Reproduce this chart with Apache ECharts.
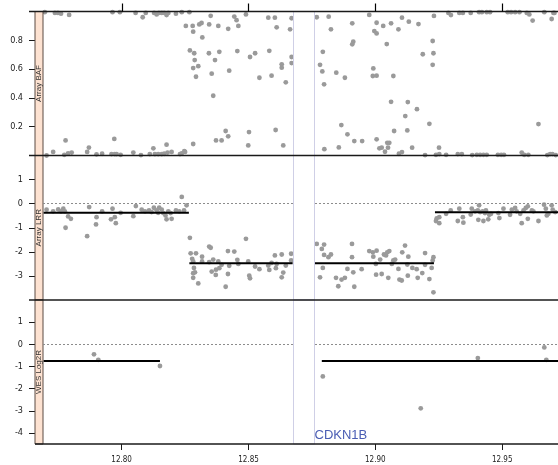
<!DOCTYPE html>
<html>
<head>
<meta charset="utf-8">
<script src="https://cdn.jsdelivr.net/npm/echarts@6/dist/echarts.min.js"></script>
<style>
  html, body { margin: 0; padding: 0; background: #fff; }
  #chart { width: 558px; height: 465px; }
</style>
</head>
<body>
<div id="chart"></div>
<script>
// ---- data (positions in Mb on chr12) ----
const xTicks = [12.80, 12.85, 12.90, 12.95];
const bafTicks = [0.2, 0.4, 0.6, 0.8];
const lrrTicks = [-3, -2, -1, 0, 1];
const wesTicks = [-4, -3, -2, -1, 0, 1];
const panelNames = ['Array BAF', 'Array LRR', 'WES Log2R'];
const geneName = 'CDKN1B';
const geneRange = [12.8677, 12.8757];

const xRange = [12.769, 12.972];
const bafRange = [0, 1];
const lrrRange = [-4, 2];
const wesRange = [-4.5, 2];

// B-allele frequency, one [position, BAF] per probe
const bafPoints = [
  [12.7697,0.995],[12.7737,0.99],[12.7749,0.99],[12.7761,0.985],[12.7793,0.976],[12.7964,0.995],
  [12.7993,0.995],[12.8055,0.99],[12.8083,0.96],[12.8095,0.99],[12.8128,0.99],[12.8138,0.98],
  [12.8147,0.99],[12.8158,0.99],[12.8168,0.99],[12.8177,0.975],[12.8184,0.99],[12.8214,0.985],
  [12.8237,0.995],[12.8267,0.995],
  [12.7704,0.0],[12.7730,0.025],[12.7779,0.105],[12.7774,0.005],[12.7789,0.015],[12.7803,0.02],
  [12.7864,0.025],[12.7871,0.055],[12.7901,0.008],[12.7923,0.012],[12.7971,0.115],[12.7960,0.01],
  [12.7973,0.01],[12.7980,0.01],[12.7996,0.005],[12.8046,0.02],[12.8076,0.003],[12.8125,0.05],
  [12.8111,0.01],[12.8131,0.01],[12.8144,0.01],[12.8158,0.01],[12.8168,0.012],[12.8177,0.075],
  [12.8181,0.02],[12.8197,0.025],[12.8230,0.01],[12.8247,0.03],[12.8282,0.08],[12.8237,0.015],
  [12.8250,0.025],
  [12.8253,0.90],[12.8280,0.90],[12.8282,0.86],[12.8269,0.73],[12.8286,0.71],[12.8288,0.663],
  [12.8282,0.607],[12.8302,0.62],[12.8293,0.547],[12.8306,0.91],[12.8315,0.92],[12.8318,0.82],
  [12.8345,0.91],[12.8351,0.97],[12.8344,0.71],[12.8355,0.568],[12.8361,0.415],[12.8368,0.663],
  [12.8372,0.105],[12.8381,0.90],[12.8385,0.72],[12.8394,0.105],[12.8410,0.17],[12.8420,0.88],
  [12.8420,0.133],[12.8424,0.589],[12.8444,0.965],[12.8453,0.94],[12.8456,0.725],[12.8460,0.90],
  [12.8490,0.98],[12.8499,0.07],[12.8502,0.163],[12.8506,0.684],[12.8526,0.71],[12.8543,0.54],
  [12.8578,0.957],[12.8582,0.727],[12.8591,0.554],[12.8604,0.957],[12.8607,0.177],[12.8611,0.89],
  [12.8631,0.633],[12.8631,0.61],[12.8637,0.07],[12.8647,0.508],[12.8664,0.876],[12.8670,0.953],
  [12.8670,0.684],[12.8670,0.642],
  [12.8769,0.96],[12.8782,0.63],[12.8793,0.72],[12.8791,0.584],[12.8798,0.494],[12.8799,0.044],
  [12.8816,0.964],[12.8825,0.876],[12.8846,0.575],[12.8856,0.056],[12.8866,0.211],[12.8880,0.54],
  [12.8890,0.147],[12.8909,0.918],[12.8913,0.79],[12.8909,0.772],[12.8917,0.10],[12.8948,0.10],
  [12.8976,0.976],[12.8990,0.552],[12.8992,0.605],[12.8996,0.864],[12.9005,0.922],[12.9005,0.848],
  [12.9005,0.554],[12.9005,0.112],[12.9016,0.05],[12.9025,0.054],[12.9031,0.90],[12.9038,0.026],
  [12.9045,0.774],[12.9047,0.088],[12.9050,0.054],[12.9055,0.088],[12.9062,0.918],[12.9062,0.373],
  [12.9071,0.552],[12.9074,0.17],[12.9091,0.876],[12.9093,0.012],[12.9105,0.957],[12.9105,0.024],
  [12.9118,0.274],[12.9126,0.174],[12.9128,0.371],[12.9132,0.929],[12.9145,0.054],[12.9164,0.322],
  [12.9170,0.913],[12.9187,0.703],[12.9196,0.003],[12.9213,0.22],[12.9226,0.795],[12.9226,0.63],
  [12.9229,0.71],[12.9231,0.969],[12.9239,0.005],[12.9251,0.054],[12.9252,0.01],
  [12.9288,0.99],[12.9298,0.975],[12.9331,0.99],[12.9345,0.99],[12.9376,0.99],[12.9409,0.995],
  [12.9420,0.995],[12.9439,0.995],[12.9452,0.995],[12.9522,0.995],[12.9535,0.995],[12.9551,0.995],
  [12.9568,0.995],[12.9597,0.99],[12.9607,0.98],[12.9620,0.937],[12.9666,0.995],[12.9695,0.948],
  [12.9702,0.99],[12.9706,0.99],
  [12.9279,0.005],[12.9325,0.01],[12.9341,0.01],[12.9382,0.003],[12.9400,0.005],[12.9413,0.005],
  [12.9426,0.005],[12.9439,0.005],[12.9483,0.005],[12.9496,0.005],[12.9507,0.005],[12.9577,0.02],
  [12.9587,0.005],[12.9603,0.005],[12.9643,0.218],[12.9678,0.003],[12.9689,0.01],[12.9698,0.01],
  [12.9711,0.003]
];

// Array log R ratio, one [position, LRR] per probe
const lrrPoints = [
  [12.7704,-0.25],[12.7730,-0.32],[12.7750,-0.24],[12.7761,-0.32],[12.7770,-0.21],[12.7776,-0.32],
  [12.7789,-0.53],[12.7800,-0.63],[12.7779,-1.0],[12.7864,-1.35],[12.7872,-0.14],[12.7901,-0.56],
  [12.7899,-0.86],[12.7923,-0.32],[12.7958,-0.65],[12.7964,-0.21],[12.7973,-0.56],[12.7977,-0.81],
  [12.7996,-0.38],[12.8046,-0.52],[12.8056,-0.10],[12.8079,-0.25],[12.8092,-0.32],[12.8108,-0.28],
  [12.8118,-0.35],[12.8127,-0.17],[12.8138,-0.28],[12.8144,-0.38],[12.8148,-0.17],[12.8158,-0.25],
  [12.8164,-0.39],[12.8173,-0.49],[12.8177,-0.65],[12.8184,-0.32],[12.8193,-0.39],[12.8197,-0.63],
  [12.8214,-0.28],[12.8227,-0.32],[12.8237,0.28],[12.8246,-0.28],[12.8256,-0.07],
  [12.8269,-1.42],[12.8272,-2.06],[12.8293,-2.06],[12.8278,-2.29],[12.8282,-2.40],[12.8285,-2.67],
  [12.8282,-2.89],[12.8289,-2.85],[12.8282,-3.08],[12.8302,-3.31],[12.8317,-2.20],[12.8317,-2.40],
  [12.8345,-1.78],[12.8351,-1.83],[12.8345,-2.43],[12.8355,-2.82],[12.8361,-2.32],[12.8371,-2.96],
  [12.8372,-2.74],[12.8381,-2.40],[12.8385,-2.68],[12.8394,-2.54],[12.8410,-3.45],[12.8419,-1.97],
  [12.8419,-2.92],[12.8424,-2.58],[12.8444,-1.99],[12.8456,-2.33],[12.8460,-2.50],[12.8490,-1.46],
  [12.8499,-2.40],[12.8503,-2.99],[12.8506,-3.10],[12.8526,-2.61],[12.8543,-2.72],[12.8578,-2.57],
  [12.8582,-2.75],[12.8591,-2.46],[12.8604,-2.15],[12.8608,-2.68],[12.8611,-2.50],[12.8631,-2.11],
  [12.8631,-3.06],[12.8637,-2.86],[12.8647,-2.57],[12.8668,-2.08],[12.8668,-2.36],
  [12.8769,-1.67],[12.8789,-1.88],[12.8798,-1.70],[12.8798,-2.13],[12.8815,-2.22],[12.8825,-2.11],
  [12.8793,-2.67],[12.8782,-3.06],[12.8845,-3.08],[12.8854,-3.43],[12.8867,-3.15],[12.8880,-3.08],
  [12.8890,-2.71],[12.8908,-1.67],[12.8908,-2.22],[12.8913,-2.85],[12.8917,-3.45],[12.8946,-2.72],
  [12.8976,-1.97],[12.8990,-2.02],[12.8992,-2.20],[12.9002,-2.50],[12.9003,-2.95],[12.9005,-1.95],
  [12.9019,-2.32],[12.9025,-2.92],[12.9034,-2.11],[12.9042,-2.15],[12.9047,-2.02],[12.9055,-1.97],
  [12.9051,-3.08],[12.9065,-2.50],[12.9071,-2.36],[12.9078,-2.32],[12.9091,-2.71],[12.9095,-3.15],
  [12.9104,-3.19],[12.9106,-2.02],[12.9117,-1.74],[12.9128,-2.99],[12.9130,-2.20],[12.9126,-2.53],
  [12.9146,-2.67],[12.9163,-2.72],[12.9167,-3.08],[12.9185,-2.88],[12.9196,-2.05],[12.9196,-2.54],
  [12.9213,-3.13],[12.9226,-2.36],[12.9229,-2.22],[12.9222,-2.67],[12.9229,-3.68],
  [12.9239,-0.72],[12.9252,-0.81],[12.9242,-0.61],[12.9252,-0.56],[12.9279,-0.42],[12.9297,-0.28],
  [12.9331,-0.21],[12.9325,-0.72],[12.9347,-0.79],[12.9345,-0.56],[12.9380,-0.21],[12.9376,-0.45],
  [12.9393,-0.32],[12.9404,-0.28],[12.9409,-0.07],[12.9413,-0.35],[12.9423,-0.32],[12.9432,-0.39],
  [12.9436,-0.28],[12.9406,-0.67],[12.9426,-0.72],[12.9445,-0.65],[12.9449,-0.46],[12.9456,-0.42],
  [12.9485,-0.39],[12.9489,-0.60],[12.9505,-0.21],[12.9531,-0.46],[12.9538,-0.25],[12.9551,-0.18],
  [12.9557,-0.32],[12.9571,-0.42],[12.9577,-0.81],[12.9584,-0.28],[12.9593,-0.18],[12.9601,-0.11],
  [12.9601,-0.63],[12.9617,-0.28],[12.9623,-0.32],[12.9643,-0.72],[12.9665,-0.04],[12.9672,-0.21],
  [12.9676,-0.49],[12.9682,-0.42],[12.9695,-0.07],[12.9699,-0.25],[12.9709,-0.35]
];

// Exome log2 ratio, one [position, log2R] per target
const wesPoints = [
  [12.7891,-0.45],[12.7908,-0.70],[12.8151,-0.98],[12.8793,-1.45],
  [12.9179,-2.89],[12.9404,-0.62],[12.9666,-0.14],[12.9674,-0.70]
];

// Segmented copy-number calls: [start, end, level]
const lrrSegments = [
  [12.7692, 12.8265, -0.38],
  [12.8267, 12.8674, -2.47],
  [12.8759, 12.9231, -2.47],
  [12.9235, 12.9750, -0.36]
];
const wesSegments = [
  [12.7692, 12.8151, -0.75],
  [12.8789, 12.9750, -0.75]
];

// ---- layout ----
const PLOT_LEFT = 43;
const STRIP_W = 8;
const TICK_LEN = 6;
const TOP_TICK_LEN = 8;
const panels = [
  { top: 11.5, height: 144 },
  { top: 155.5, height: 144.5 },
  { top: 300, height: 144 }
];
const NARROW = "'Liberation Sans Narrow', 'Arial Narrow', 'DejaVu Sans Condensed', sans-serif";
const SANS = "'Liberation Sans', Arial, sans-serif";
const POINT_COLOR = '#9a9a9a';
const AXIS_COLOR = '#1a1a1a';

const yRanges = [bafRange, lrrRange, wesRange];
const yTicks = [bafTicks, lrrTicks, wesTicks];
const yFormat = [v => v.toFixed(1), v => String(v), v => String(v)];

const chart = echarts.init(document.getElementById('chart'), null, { renderer: 'canvas' });

// Fixed panel rectangles; labels may sit close to the canvas edge
const grids = panels.map(p => ({
  left: PLOT_LEFT, right: 0, top: p.top, height: p.height,
  containLabel: false, outerBoundsMode: 'none'
}));

// Only the last panel shows the position axis labels
const xAxes = panels.map((p, i) => ({
  type: 'value',
  gridIndex: i,
  min: xRange[0],
  max: xRange[1],
  position: 'bottom',
  axisLine: { show: false, onZero: false },
  splitLine: { show: false },
  axisTick: {
    show: i === 2,
    customValues: xTicks,
    length: TICK_LEN,
    lineStyle: { color: AXIS_COLOR, width: 1 }
  },
  axisLabel: {
    show: i === 2,
    customValues: xTicks,
    formatter: v => v.toFixed(2),
    margin: 12,
    fontSize: 8,
    color: '#222',
    fontFamily: NARROW
  }
}));

const yAxes = panels.map((p, i) => ({
  type: 'value',
  gridIndex: i,
  min: yRanges[i][0],
  max: yRanges[i][1],
  offset: STRIP_W,
  axisLine: { show: false, onZero: false },
  splitLine: { show: false },
  axisTick: {
    show: true,
    customValues: yTicks[i],
    length: TICK_LEN,
    lineStyle: { color: AXIS_COLOR, width: 1 }
  },
  axisLabel: {
    customValues: yTicks[i],
    formatter: yFormat[i],
    margin: 12,
    fontSize: 9,
    color: '#222',
    fontFamily: NARROW
  }
}));

const zeroLine = {
  silent: true,
  symbol: 'none',
  label: { show: false },
  lineStyle: { color: '#8c8c8c', type: [2, 2], width: 1 },
  data: [{ yAxis: 0 }]
};

function scatterSeries(idx, points, withZero) {
  return {
    type: 'scatter',
    xAxisIndex: idx,
    yAxisIndex: idx,
    data: points,
    symbolSize: 4.8,
    clip: false,
    itemStyle: { color: POINT_COLOR, opacity: 1 },
    z: 2,
    markLine: withZero ? zeroLine : undefined
  };
}

function segmentSeries(idx, segments) {
  return {
    type: 'custom',
    xAxisIndex: idx,
    yAxisIndex: idx,
    data: segments,
    encode: { x: [0, 1], y: 2 },
    clip: true,
    z: 3,
    renderItem: (params, api) => {
      const a = api.coord([api.value(0), api.value(2)]);
      const b = api.coord([api.value(1), api.value(2)]);
      return {
        type: 'line',
        shape: { x1: a[0], y1: a[1], x2: b[0], y2: b[1] },
        style: { stroke: '#000', lineWidth: 2 }
      };
    }
  };
}

// Gene interval: a white band across the panel, outlined in lavender
function bandSeries(idx, withLabel) {
  return {
    type: 'custom',
    xAxisIndex: idx,
    yAxisIndex: idx,
    data: [geneRange],
    encode: { x: [0, 1] },
    z: 10,
    silent: true,
    renderItem: (params, api) => {
      const cs = params.coordSys;
      const x0 = Math.round(api.coord([api.value(0), 0])[0]) + 0.5;
      const x1 = Math.round(api.coord([api.value(1), 0])[0]) + 0.5;
      const children = [{
        type: 'rect',
        shape: { x: x0, y: cs.y, width: x1 - x0, height: cs.height },
        style: { fill: '#ffffff', stroke: '#cfcfe6', lineWidth: 1 }
      }];
      if (withLabel) {
        children.push({
          type: 'text',
          style: {
            text: geneName,
            x: x1,
            y: cs.y + cs.height - 2,
            align: 'left',
            verticalAlign: 'bottom',
            fontSize: 13,
            fontFamily: SANS,
            fill: '#4a5db3'
          }
        });
      }
      return { type: 'group', children };
    }
  };
}

// Panel strips with their names, and the horizontal panel frame lines
const graphics = [];
panels.forEach((p, i) => {
  graphics.push({
    type: 'rect',
    z: 3,
    shape: { x: PLOT_LEFT - STRIP_W, y: p.top, width: STRIP_W, height: p.height },
    style: { fill: '#fde2d1', stroke: '#5a4a42', lineWidth: 1 }
  });
  graphics.push({
    type: 'text',
    z: 4,
    x: PLOT_LEFT - STRIP_W / 2,
    y: p.top + p.height / 2,
    rotation: Math.PI / 2,
    style: {
      text: panelNames[i],
      align: 'center',
      verticalAlign: 'middle',
      fontSize: 8,
      fontFamily: SANS,
      fill: '#333'
    }
  });
});
const frameYs = [panels[0].top, panels[1].top, panels[2].top, panels[2].top + panels[2].height];
frameYs.forEach((y, k) => {
  const x1 = k === 3 ? PLOT_LEFT - STRIP_W : PLOT_LEFT - STRIP_W - TICK_LEN;
  graphics.push({
    type: 'line',
    z: 12,
    shape: { x1: x1, y1: y, x2: 560, y2: y },
    style: { stroke: AXIS_COLOR, lineWidth: 1.3 }
  });
});

chart.setOption({
  animation: false,
  backgroundColor: '#fff',
  grid: grids,
  xAxis: xAxes,
  yAxis: yAxes,
  series: [
    scatterSeries(0, bafPoints, false),
    scatterSeries(1, lrrPoints, true),
    scatterSeries(2, wesPoints, true),
    segmentSeries(1, lrrSegments),
    segmentSeries(2, wesSegments),
    bandSeries(0, false),
    bandSeries(1, false),
    bandSeries(2, true)
  ]
});

// Tick marks above the first panel, placed through the first panel's position scale
xTicks.forEach(v => {
  const px = chart.convertToPixel({ xAxisIndex: 0 }, v);
  const x = Math.round(px) + 0.5;
  graphics.push({
    type: 'line',
    z: 50,
    shape: { x1: x, y1: panels[0].top, x2: x, y2: panels[0].top - TOP_TICK_LEN },
    style: { stroke: '#000', lineWidth: 1.2 }
  });
});
chart.setOption({ graphic: { elements: graphics } });
</script>
</body>
</html>
